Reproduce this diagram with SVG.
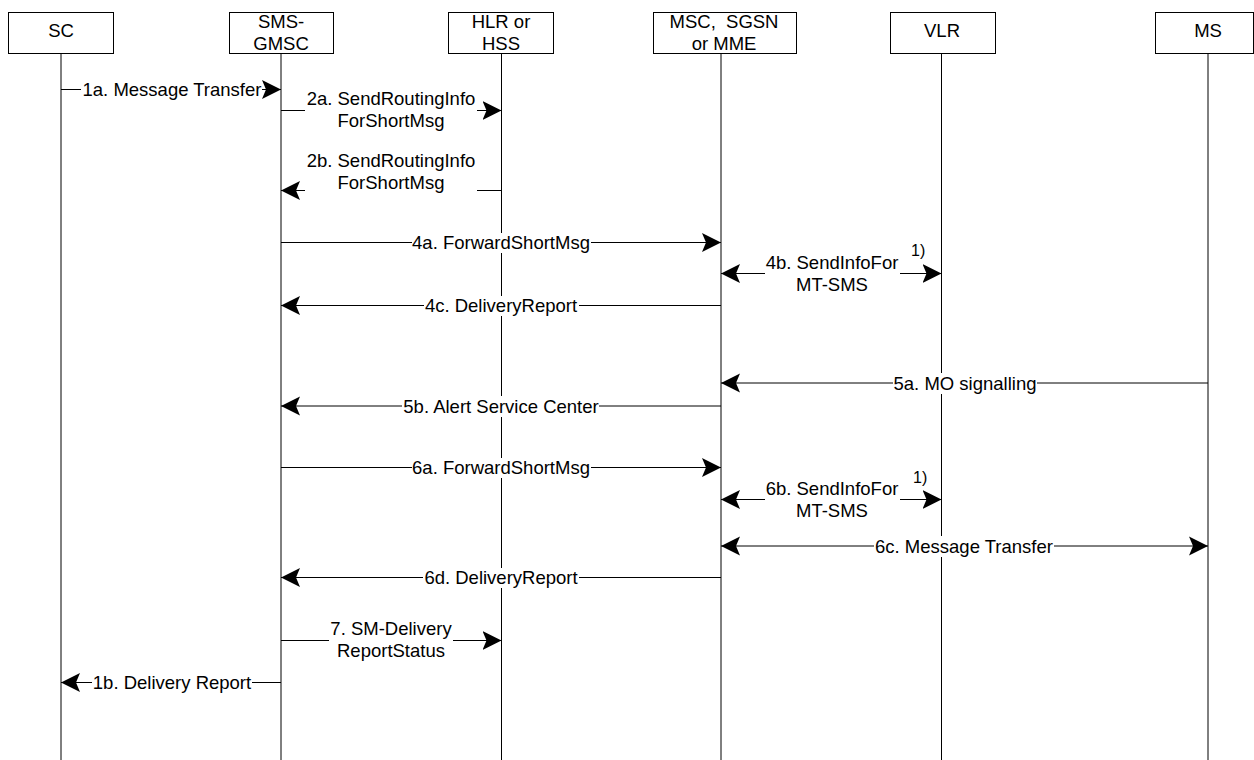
<svg xmlns="http://www.w3.org/2000/svg" width="1254" height="760" viewBox="0 0 1254 760">
<defs>
<style>
.box{fill:#fff;stroke:#000;stroke-width:1}
.life{stroke:#000;stroke-width:1;fill:none}
.msg{stroke:#000;stroke-width:1;fill:none;marker-end:url(#ah)}
.dbl{marker-start:url(#ah)}
.bg{fill:#fff;stroke:none}
.t{font-family:"Liberation Sans",Arial,Helvetica,sans-serif;font-size:18.5px;fill:#000;text-anchor:middle}
.n{font-family:"Liberation Sans",Arial,Helvetica,sans-serif;font-size:16px;fill:#000}
</style>
<marker id="ah" markerUnits="userSpaceOnUse" viewBox="0 0 20 20" markerWidth="20" markerHeight="20" refX="19" refY="10" orient="auto-start-reverse">
<path d="M0,0.5 L19,10 L0,19.5 L4,10 Z" fill="#000"/>
</marker>
</defs>
<rect width="1254" height="760" fill="#fff"/>

<g id="lifelines">
<line class="life" x1="61" y1="53" x2="61" y2="760"/>
<line class="life" x1="281" y1="53" x2="281" y2="760"/>
<line class="life" x1="501.5" y1="53" x2="501.5" y2="760"/>
<line class="life" x1="721" y1="53" x2="721" y2="760"/>
<line class="life" x1="941.5" y1="53" x2="941.5" y2="760"/>
<line class="life" x1="1208" y1="53" x2="1208" y2="760"/>
</g>

<g id="node-sc">
<rect class="box" x="8.5" y="12.5" width="105" height="41"/>
<text class="t" x="61" y="37">SC</text>
</g>
<g id="node-gmsc">
<rect class="box" x="229.5" y="12.5" width="104" height="41"/>
<text class="t" x="281" y="28">SMS-</text>
<text class="t" x="281" y="49.5">GMSC</text>
</g>
<g id="node-hlr">
<rect class="box" x="448.5" y="12.5" width="105" height="41"/>
<text class="t" x="501" y="28">HLR or</text>
<text class="t" x="501" y="49.5">HSS</text>
</g>
<g id="node-msc">
<rect class="box" x="653.5" y="12.5" width="143" height="41"/>
<text class="t" x="724" y="28" style="white-space:pre" xml:space="preserve">MSC,  SGSN</text>
<text class="t" x="724" y="49.5">or MME</text>
</g>
<g id="node-vlr">
<rect class="box" x="890.5" y="12.5" width="105" height="41"/>
<text class="t" x="942" y="37">VLR</text>
</g>
<g id="node-ms">
<rect class="box" x="1155.5" y="12.5" width="98" height="41"/>
<text class="t" x="1208" y="37">MS</text>
</g>

<g id="connectors">
<g id="m1a">
<line class="msg" x1="61" y1="89.5" x2="281" y2="89.5"/>
<rect class="bg" x="81" y="80" width="181" height="20"/>
<text class="t" x="172" y="96">1a. Message Transfer</text>
</g>
<g id="m2a">
<line class="msg" x1="281" y1="110.5" x2="501.5" y2="110.5"/>
<rect class="bg" x="305" y="92" width="172" height="40"/>
<text class="t" x="391" y="105">2a. SendRoutingInfo</text>
<text class="t" x="391" y="127">ForShortMsg</text>
</g>
<g id="m2b">
<line class="msg" x1="501.5" y1="190.5" x2="281" y2="190.5"/>
<rect class="bg" x="305" y="152" width="172" height="43"/>
<text class="t" x="391" y="167">2b. SendRoutingInfo</text>
<text class="t" x="391" y="188.5">ForShortMsg</text>
</g>
<g id="m4a">
<line class="msg" x1="281" y1="242.5" x2="721" y2="242.5"/>
<rect class="bg" x="412" y="233" width="179" height="20"/>
<text class="t" x="501" y="249">4a. ForwardShortMsg</text>
</g>
<g id="m4b">
<line class="msg dbl" x1="721" y1="273.5" x2="941.5" y2="273.5"/>
<rect class="bg" x="765" y="254" width="135" height="42"/>
<text class="t" x="832" y="268.5">4b. SendInfoFor</text>
<text class="t" x="832" y="291">MT-SMS</text>
<text class="n" x="911" y="256">1)</text>
</g>
<g id="m4c">
<line class="msg" x1="721" y1="305.5" x2="281" y2="305.5"/>
<rect class="bg" x="424" y="296" width="155" height="20"/>
<text class="t" x="501" y="312">4c. DeliveryReport</text>
</g>
<g id="m5a">
<line class="msg" x1="1208" y1="383" x2="721" y2="383"/>
<rect class="bg" x="893" y="373" width="144" height="21"/>
<text class="t" x="965" y="389.5">5a. MO signalling</text>
</g>
<g id="m5b">
<line class="msg" x1="721" y1="406" x2="281" y2="406"/>
<rect class="bg" x="402" y="396" width="197" height="21"/>
<text class="t" x="501" y="412.5">5b. Alert Service Center</text>
</g>
<g id="m6a">
<line class="msg" x1="281" y1="467.5" x2="721" y2="467.5"/>
<rect class="bg" x="412" y="458" width="179" height="20"/>
<text class="t" x="501" y="474">6a. ForwardShortMsg</text>
</g>
<g id="m6b">
<line class="msg dbl" x1="721" y1="499.5" x2="941.5" y2="499.5"/>
<rect class="bg" x="765" y="480" width="135" height="42"/>
<text class="t" x="832" y="494.5">6b. SendInfoFor</text>
<text class="t" x="832" y="517">MT-SMS</text>
<text class="n" x="913" y="483">1)</text>
</g>
<g id="m6c">
<line class="msg dbl" x1="721" y1="546" x2="1208" y2="546"/>
<rect class="bg" x="874" y="536" width="180" height="21"/>
<text class="t" x="964" y="552.5">6c. Message Transfer</text>
</g>
<g id="m6d">
<line class="msg" x1="721" y1="577.5" x2="281" y2="577.5"/>
<rect class="bg" x="423" y="568" width="156" height="20"/>
<text class="t" x="501" y="584">6d. DeliveryReport</text>
</g>
<g id="m7">
<line class="msg" x1="281" y1="640.5" x2="501.5" y2="640.5"/>
<rect class="bg" x="329" y="621" width="124" height="41"/>
<text class="t" x="391" y="635">7. SM-Delivery</text>
<text class="t" x="391" y="657">ReportStatus</text>
</g>
<g id="m1b">
<line class="msg" x1="281" y1="682.5" x2="61" y2="682.5"/>
<rect class="bg" x="92" y="673" width="160" height="20"/>
<text class="t" x="172" y="689">1b. Delivery Report</text>
</g>
</g>
</svg>
